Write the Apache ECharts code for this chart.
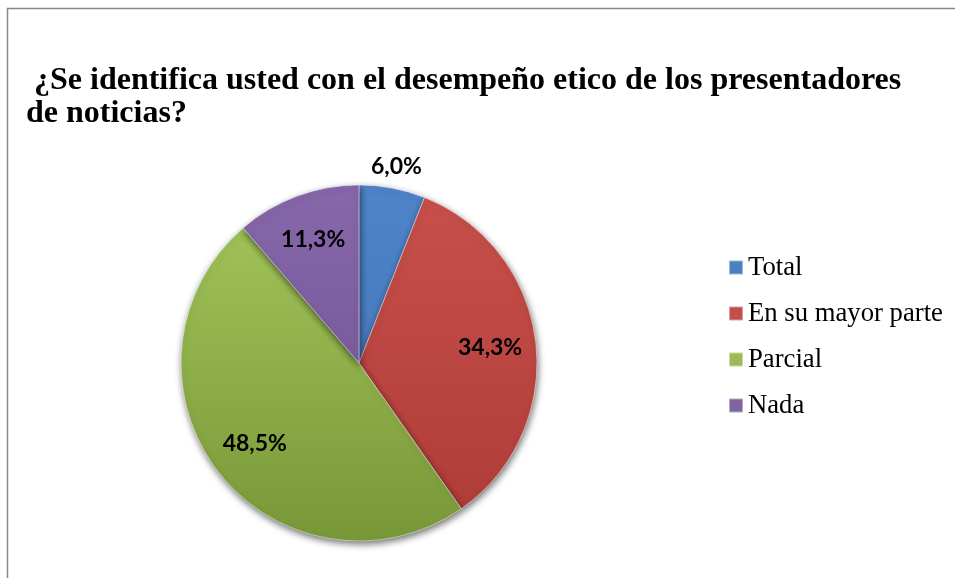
<!DOCTYPE html>
<html>
<head>
<meta charset="utf-8">
<script src="https://cdn.jsdelivr.net/npm/echarts@6/dist/echarts.min.js"></script>
<style>html,body{margin:0;padding:0;background:#fff;}#c{width:955px;height:578px;}</style>
</head>
<body>
<div id="c"></div>
<script>
const titleText = ' ¿Se identifica usted con el desempeño etico de los presentadores\nde noticias?';
const categories = ['Total', 'En su mayor parte', 'Parcial', 'Nada'];
const values = [6.0, 34.3, 48.5, 11.3];
const innerLabelShown = [false, true, true, true];
const colorsTop = ['#4f84c9', '#c9504b', '#a6c75c', '#8767aa'];
const colorsBottom = ['#3f70b0', '#ae3b37', '#789838', '#6c5191'];
const legendColors = ['#4a7fc2', '#c0504d', '#9bbb59', '#8064a2'];

const fmt = v => v.toFixed(1).replace('.', ',') + '%';
const center = [359, 363];
const R = 178;

function grad(i) {
  return {
    type: 'linear', x: 0, y: center[1] - R, x2: 0, y2: center[1] + R, global: true,
    colorStops: [{offset: 0, color: colorsTop[i]}, {offset: 1, color: colorsBottom[i]}]
  };
}

const labelStyle = {fontFamily: 'Lato, "Liberation Sans", sans-serif', fontWeight: 'bold', fontSize: 23, color: '#000'};

const chart = echarts.init(document.getElementById('c'), null, {renderer: 'canvas'});
chart.setOption({
  animation: false,
  backgroundColor: '#fff',
  title: {
    text: titleText, left: 26, top: 64, padding: 0,
    textStyle: {fontFamily: '"Liberation Serif", "Times New Roman", serif', fontWeight: 'bold', fontSize: 32, lineHeight: 33, color: '#000'}
  },
  legend: {
    orient: 'vertical', left: 728, top: 254, padding: 0, itemGap: 19, itemWidth: 14, itemHeight: 14, icon: 'rect',
    selectedMode: false,
    textStyle: {fontFamily: '"Liberation Serif", "Times New Roman", serif', fontSize: 26.7, color: '#000'},
    data: categories.map((c, i) => ({name: c, itemStyle: {color: legendColors[i]}}))
  },
  graphic: [{
    type: 'rect', silent: true,
    shape: {x: 7.5, y: 8.5, width: 1200, height: 1200},
    style: {fill: null, stroke: '#878787', lineWidth: 1.5}
  }],
  series: [
    {
      type: 'pie', center: center, radius: [0, R], startAngle: 90, clockwise: true,
      silent: true, label: {show: false}, labelLine: {show: false},
      itemStyle: {borderColor: 'rgba(255,255,255,0.45)', borderWidth: 1, shadowBlur: 7, shadowOffsetY: 3, shadowOffsetX: 1, shadowColor: 'rgba(0,0,0,0.55)'},
      data: categories.map((c, i) => ({name: c, value: values[i], itemStyle: {color: grad(i)}}))
    },
    {
      type: 'pie', center: center, radius: [80, R], startAngle: 90, clockwise: true, silent: true,
      labelLine: {show: false}, legendHoverLink: false,
      itemStyle: {color: 'rgba(0,0,0,0)'},
      label: Object.assign({position: 'inside', formatter: p => fmt(p.value)}, labelStyle),
      data: categories.map((c, i) => ({name: c, value: values[i], label: {show: innerLabelShown[i]}}))
    },
    {
      type: 'pie', center: center, radius: [R + 2, R + 36], startAngle: 90, clockwise: true, silent: true,
      labelLine: {show: false}, legendHoverLink: false,
      itemStyle: {color: 'rgba(0,0,0,0)'},
      label: Object.assign({position: 'inside', formatter: p => fmt(p.value)}, labelStyle),
      data: categories.map((c, i) => ({name: c, value: values[i], label: {show: !innerLabelShown[i]}}))
    }
  ]
});
</script>
</body>
</html>
